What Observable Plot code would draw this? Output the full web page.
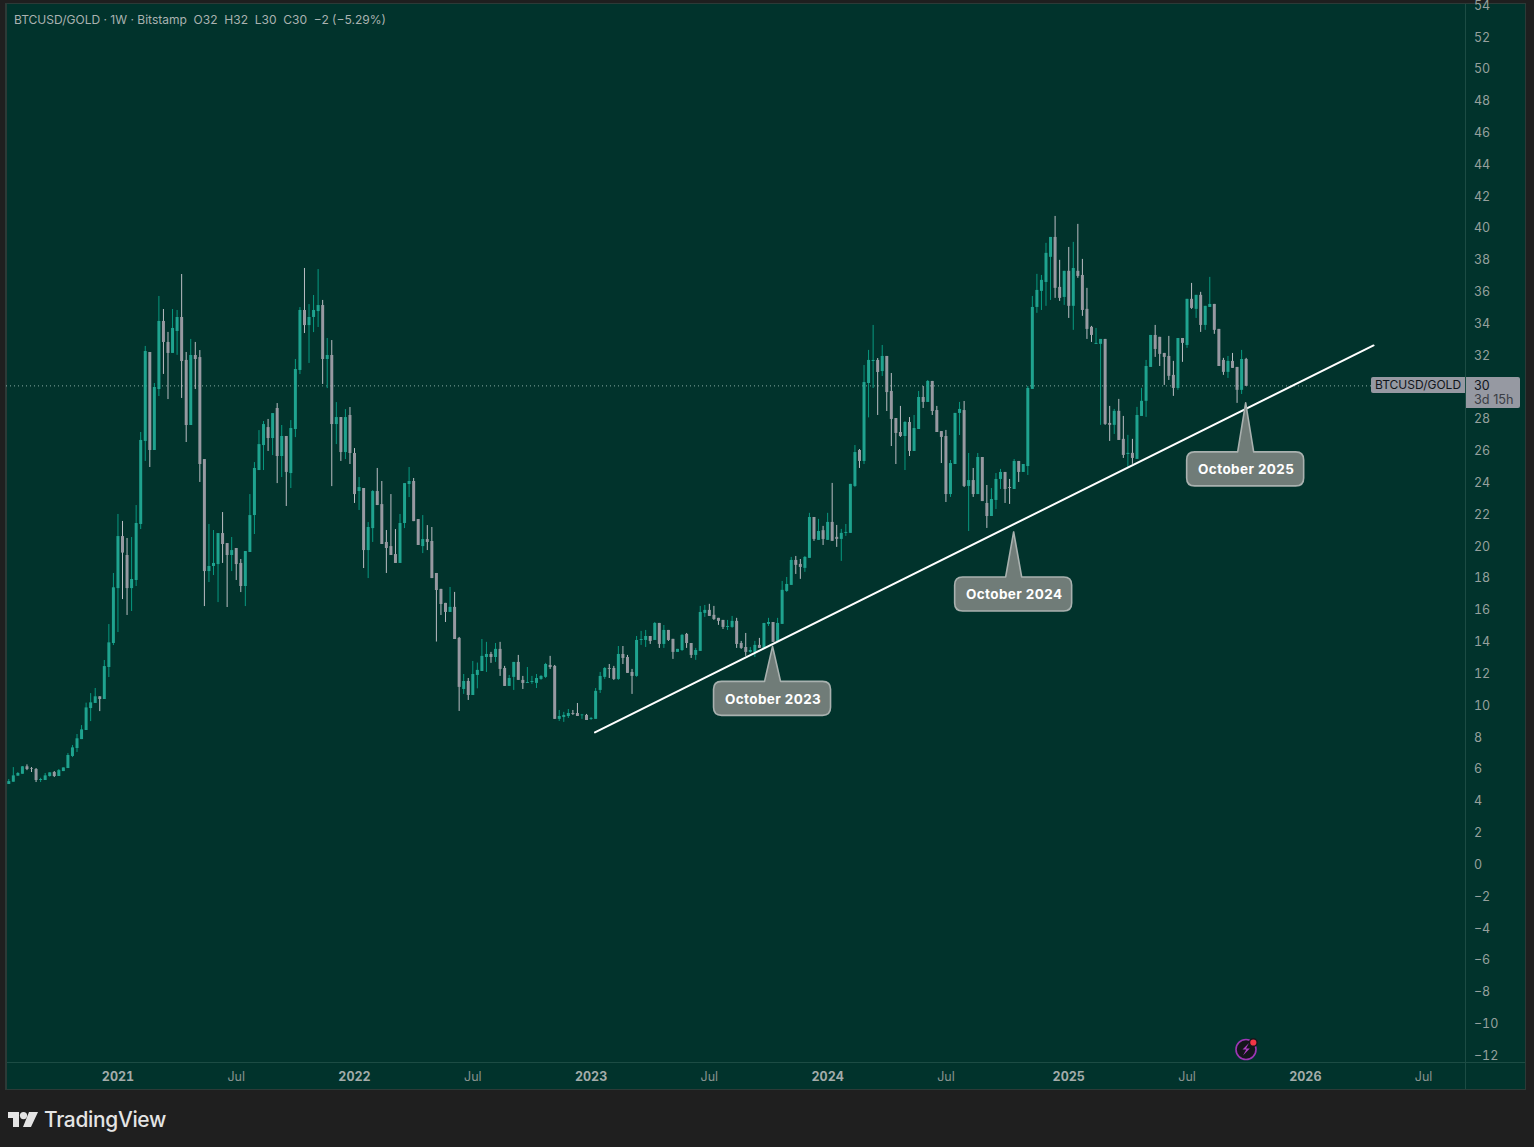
<!DOCTYPE html>
<html>
<head>
<meta charset="utf-8">
<script src="https://cdn.jsdelivr.net/npm/d3@7"></script>
<script src="https://cdn.jsdelivr.net/npm/@observablehq/plot@0.6"></script>
<style>
html,body{margin:0;padding:0;background:#1f1f1f;width:1534px;height:1147px;overflow:hidden;font-family:Inter,"Noto Sans",sans-serif}
#panel{position:absolute;left:5px;top:3px;width:1518px;height:1085px;background:#01332c;border:solid #2c3a37;border-width:1.5px 1px 1px 2px;box-sizing:content-box}
#sepH{position:absolute;left:7px;top:1062px;width:1518px;height:1px;background:#1c4c44}
#sepV{position:absolute;left:1465px;top:4px;width:1px;height:1085px;background:#1c4c44}
#chart{position:absolute;left:0;top:0}
#head{position:absolute;left:14px;top:12px;font-size:12.02px;line-height:15px;color:#aab2b0;white-space:pre}
.tag{position:absolute;background:#9699a2;color:#11151a;box-sizing:border-box}
#tagName{left:1371px;top:377px;width:94px;height:16px;border-radius:2px 0 0 2px;font-size:12px;line-height:15px;padding-left:4px}
#tagPrice{left:1466px;top:377px;width:54px;height:31px;border-radius:0 2px 2px 0;font-size:12.5px;line-height:14px;padding:2px 0 0 8px}
#tagPrice span{display:block;color:#3a3e45;font-size:12.7px;white-space:pre}
#logoText{position:absolute;left:44px;top:1106px;font-size:20.9px;line-height:28px;font-weight:500;color:#e4e4e4;letter-spacing:-.3px}
svg.ov{position:absolute;overflow:visible}
g[aria-label="text"] text{letter-spacing:.4px}
</style>
</head>
<body>
<div id="panel"></div><div id="sepH"></div><div id="sepV"></div>
<div id="chart"></div>
<div id="head">BTCUSD/GOLD · 1W · Bitstamp  O32  H32  L30  C30  −2 (−5.29%)</div>
<div class="tag" id="tagName">BTCUSD/GOLD</div>
<div class="tag" id="tagPrice">30<span>3d 15h</span></div>
<svg class="ov" style="left:0;top:0" width="1534" height="1147">
  <g fill="#e4e4e4">
    <path d="M8 1112h11v15h-6v-9h-5z"/><circle cx="23.5" cy="1115.6" r="3.6"/><path d="M29 1112h9l-7 15h-8z"/>
  </g>
  <circle cx="1246" cy="1049.5" r="10" fill="#14161c" stroke="#9c36b5" stroke-width="1.6"/>
  <path d="M1249 1043l-6.5 6.5h3.8l-3.3 6 6.8-7h-3.8z" fill="#b03fc6"/>
  <circle cx="1253.3" cy="1042.5" r="3.8" fill="#f23645" stroke="#14161c" stroke-width="1.4"/>
</svg>
<div id="logoText">TradingView</div>
<script>
const firstWeek = "2020-07-20";
const opens = [
5.03,5.17,5.55,5.67,6.14,6.03,5.97,5.28,5.28,5.53,
5.78,5.53,5.84,6.03,6.79,7.29,7.85,8.42,9.80,10.12,
10.54,10.37,12.38,13.89,17.34,20.61,19.42,17.34,17.85,21.37,
26.59,32.18,26.02,29.85,34.13,32.81,32.12,33.50,34.38,31.68,
27.59,31.99,31.86,25.45,18.41,18.73,18.85,20.80,20.17,19.42,
19.86,18.92,17.47,19.61,21.93,24.76,26.33,27.46,26.77,28.66,
25.64,26.90,24.57,27.34,31.05,34.82,33.87,34.38,34.75,35.13,
31.74,31.99,27.65,28.09,25.89,28.22,25.83,23.44,23.63,19.73,
21.11,23.44,22.62,20.24,19.98,19.48,18.92,21.43,23.88,24.07,
21.68,19.98,20.42,20.30,18.29,17.29,16.41,15.84,16.16,14.21,
11.0,11.50,10.62,11.88,12.13,13.01,13.20,13.01,13.52,12.32,
11.19,11.76,12.70,11.57,11.38,11.44,11.38,11.63,11.76,12.51,
12.45,9.12,9.24,9.30,9.49,9.49,9.35,9.37,9.12,9.12,
10.94,11.76,12.32,12.32,11.63,13.20,13.01,12.07,11.82,14.08,
14.08,14.33,14.08,15.15,13.83,14.71,14.15,13.33,13.45,14.46,
13.89,13.14,13.39,15.78,15.97,15.66,15.47,15.34,14.90,14.90,
15.28,13.89,13.64,13.33,13.33,13.77,13.58,15.09,15.21,14.02,
15.09,17.16,17.54,19.11,18.86,18.61,19.24,21.81,20.37,20.98,
20.37,21.50,20.56,20.43,20.81,20.81,23.76,26.02,25.33,30.23,
31.61,31.68,30.98,31.93,29.73,28.03,27.15,26.90,27.78,25.96,
27.34,29.35,29.04,30.36,28.53,27.21,26.90,23.25,25.14,28.35,
28.53,23.76,24.13,23.25,25.58,22.69,21.87,22.88,24.20,24.64,
23.69,23.57,25.33,24.64,25.01,29.86,35.01,36.02,36.58,38.16,
39.41,36.27,35.64,37.28,35.08,37.28,37.02,34.89,33.76,32.69,
32.69,33.0,27.72,27.60,28.48,26.72,25.77,25.84,25.46,28.16,
29.11,31.24,33.25,33.13,32.12,31.93,30.74,29.92,33.06,32.62,
35.52,34.89,35.77,33.88,35.01,35.20,33.63,31.68,30.93,31.62,
31.24,29.80,31.74];
const closes = [
5.21,5.57,5.72,6.14,5.97,5.99,5.28,5.34,5.57,5.76,
5.53,5.90,6.07,6.85,7.33,7.90,8.46,9.84,10.16,10.54,
10.37,12.44,13.93,17.39,20.61,19.57,17.34,17.91,21.43,26.65,
32.24,26.02,29.98,34.13,32.81,32.12,33.69,34.38,31.61,27.59,
31.99,31.74,25.14,18.41,18.73,18.92,20.80,20.11,19.42,19.73,
18.85,17.47,19.67,21.93,24.89,26.39,27.65,26.77,28.34,25.64,
26.90,24.64,27.40,31.11,34.82,33.87,34.38,34.82,35.13,31.74,
31.99,27.65,28.09,25.89,28.09,25.83,23.25,23.69,19.73,21.18,
23.44,22.56,20.11,19.86,19.42,18.92,21.43,23.94,24.07,21.55,
20.05,20.42,20.24,17.97,17.22,16.34,15.84,16.16,14.14,11.13,
11.50,10.62,11.94,12.20,13.08,13.20,13.01,13.52,12.26,11.19,
11.69,12.70,11.57,11.38,11.44,11.50,11.69,11.82,12.57,12.38,
9.12,9.30,9.37,9.49,9.43,9.30,9.39,9.05,9.18,10.88,
11.82,12.32,12.26,11.63,13.20,12.95,12.01,11.82,14.08,14.14,
14.33,14.02,15.15,13.83,14.71,14.08,13.33,13.52,14.40,13.89,
13.14,13.45,15.84,15.97,15.59,15.40,15.28,14.90,14.96,15.28,
13.83,13.58,13.33,13.45,13.77,13.58,15.15,15.21,13.96,15.15,
17.23,17.60,19.11,18.80,18.67,19.30,21.81,20.43,20.93,20.43,
21.50,20.31,20.43,20.81,20.87,23.89,25.89,25.33,30.29,31.68,
31.68,30.92,31.93,29.66,27.97,27.09,26.90,27.78,25.96,27.40,
29.35,29.04,30.36,28.47,27.15,26.84,23.25,25.20,28.35,28.60,
23.76,24.13,23.25,25.58,22.81,21.87,22.94,24.20,24.64,23.57,
23.63,25.33,24.64,25.14,29.92,35.01,36.08,36.71,38.41,39.41,
36.21,35.58,37.28,35.08,37.46,36.96,34.82,33.63,33.25,32.75,
33.0,27.66,27.60,28.48,26.65,25.71,25.84,25.52,28.22,29.11,
31.30,33.25,32.37,32.06,31.87,30.68,29.92,33.06,32.75,35.52,
34.95,35.77,33.88,35.08,35.20,33.57,31.30,30.93,31.62,31.18,
29.80,31.74,30.05];
const highs = [
5.34,6.09,5.78,6.16,6.26,6.09,6.03,5.42,5.72,5.76,
5.84,5.97,6.07,6.97,7.48,8.17,8.73,10.14,10.74,11.06,
10.54,12.82,15.08,18.29,22.0,21.56,20.49,20.55,22.56,27.15,
32.56,32.18,30.23,35.70,34.88,33.44,34.88,34.82,37.08,32.18,
33.0,32.81,32.30,25.45,21.37,20.99,20.80,22.12,20.17,20.55,
19.86,19.17,19.67,23.25,25.26,27.27,27.84,27.97,28.34,28.97,
27.59,26.90,27.90,31.74,35.0,37.46,35.19,35.76,37.39,35.45,
33.06,32.93,29.03,28.09,28.59,28.72,26.14,24.32,23.63,21.49,
23.50,24.89,24.07,20.99,23.25,21.05,22.0,23.94,24.95,24.26,
21.68,21.93,21.30,21.18,18.29,17.29,16.41,17.41,17.10,14.27,
11.94,11.69,12.76,12.66,14.14,13.96,13.33,13.89,13.96,12.45,
11.88,12.70,13.14,11.82,12.38,11.82,11.94,11.88,12.64,13.08,
12.51,9.68,9.56,9.74,9.68,10.12,9.43,9.43,9.24,11.06,
12.07,12.38,12.57,12.45,13.70,13.70,13.14,12.26,14.33,14.65,
14.71,14.33,15.21,15.15,15.02,14.71,14.15,13.52,14.46,14.52,
13.89,13.58,16.22,16.28,16.35,16.22,15.47,15.34,15.34,15.59,
15.47,14.02,14.52,13.64,14.02,14.21,15.15,15.47,15.21,15.47,
17.79,18.04,19.30,19.36,19.17,19.36,22.07,21.81,21.69,21.25,
22.07,23.95,21.31,21.06,21.37,23.89,26.33,26.08,31.36,32.31,
33.88,31.80,32.62,31.93,30.86,28.03,28.79,27.84,28.09,28.22,
29.73,30.04,30.42,30.36,28.79,27.21,27.28,25.39,28.35,29.04,
29.10,25.83,24.89,25.83,25.58,23.82,23.63,24.57,24.83,24.64,
24.20,25.45,25.33,25.14,30.04,35.70,37.09,37.02,39.04,39.41,
40.73,37.97,37.28,38.78,39.10,40.23,38.03,36.21,33.82,33.69,
33.0,33.0,28.79,28.60,29.23,28.16,26.97,26.72,28.73,29.92,
31.68,33.25,33.88,33.13,32.12,33.19,31.62,33.06,33.06,35.52,
36.52,35.77,35.96,35.08,36.90,35.20,33.63,31.81,31.93,32.12,
31.24,32.31,31.81];
const lows = [
5.03,5.17,5.55,5.67,5.90,5.78,5.15,5.15,5.28,5.49,
5.47,5.53,5.84,6.03,6.72,7.04,7.85,8.42,8.98,10.12,
9.61,10.37,11.75,13.76,14.58,16.65,15.65,15.90,17.47,21.05,
25.33,24.95,26.02,29.41,30.80,29.22,32.12,32.0,29.29,26.52,
27.59,29.85,24.01,16.21,17.72,18.16,16.46,18.92,16.15,18.41,
17.85,17.09,16.21,19.61,20.74,24.76,24.76,25.96,25.70,23.94,
24.32,22.50,23.63,26.83,30.79,33.37,31.49,33.43,33.75,30.17,
29.91,23.75,26.39,25.33,25.45,25.14,22.69,22.25,18.60,17.97,
20.24,22.56,20.11,18.29,19.42,18.92,18.92,21.11,23.06,21.55,
20.05,19.54,19.73,17.97,13.98,15.65,15.21,15.84,14.14,9.62,
10.69,10.31,10.62,11.04,12.13,12.07,12.64,12.70,11.82,11.19,
11.19,10.94,11.57,11.0,11.38,11.32,11.06,11.57,11.69,12.26,
9.12,8.99,8.93,9.18,9.37,9.30,9.12,9.05,9.05,9.12,
10.75,11.63,11.69,11.57,11.57,12.57,12.01,10.69,11.76,13.77,
13.64,13.83,14.08,13.58,13.58,14.02,12.89,13.33,13.39,13.58,
12.95,12.83,13.39,15.53,15.59,15.34,15.03,14.77,14.71,14.84,
13.58,13.52,13.08,13.27,13.01,13.58,13.58,14.96,13.96,14.02,
15.09,17.10,17.54,18.23,17.92,18.36,19.24,20.31,20.37,20.05,
20.37,20.31,19.93,19.05,20.62,20.81,23.69,24.89,25.14,28.07,
29.92,28.22,30.67,28.47,26.27,25.14,26.84,24.76,25.64,25.96,
27.34,28.66,29.04,28.22,27.15,25.20,22.75,23.07,25.14,26.96,
23.69,20.93,23.07,23.25,22.81,21.12,21.87,22.31,23.57,22.69,
22.63,23.57,24.01,24.64,24.45,29.86,34.64,34.82,35.08,35.45,
35.58,35.39,35.14,34.32,33.57,36.84,34.45,33.0,32.81,32.69,
27.60,27.60,26.59,27.03,26.65,25.52,24.89,25.15,25.46,28.16,
28.10,31.24,31.87,31.30,30.11,30.42,29.42,29.80,31.56,32.44,
34.89,34.32,33.44,33.57,35.01,33.32,31.30,30.74,30.55,31.18,
28.98,29.54,30.05];

const priceTicks = [-12,-10,-8,-6,-4,-2,0,2,4,6,8,10,12,14,16,18,20,22,24,26,28,30,32,34,36,38,40,42,44,46,48,50,52,54];
const yearDates = ["2021-01-04","2022-01-03","2023-01-02","2024-01-01","2025-01-06","2026-01-05"];
const yearLabels = ["2021","2022","2023","2024","2025","2026"];
const julyDates = ["2021-07-05","2022-07-04","2023-07-03","2024-07-01","2025-07-07","2026-07-06"];
const trendDates = ["2023-01-08","2026-04-20"];
const trendValues = [8.30,32.62];
const calloutLabels = ["October 2023","October 2024","October 2025"];
const calloutDates = ["2023-10-09","2024-10-14","2025-10-06"];
const calloutValues = [13.68,20.87,28.98];
const calloutStems = [35,45,49];
const lastPrice = 30.08;

const U = s => new Date(s + "T00:00:00Z");
const start = U(firstWeek);
const candles = opens.map((o,i)=>({
  date:d3.utcMonday.offset(start,i), open:o, close:closes[i], high:highs[i], low:lows[i], up:closes[i]>=o
}));
const trend = trendDates.map((d,i)=>({date:U(d),value:trendValues[i]}));
const callouts = calloutLabels.map((t,i)=>({label:t,date:U(calloutDates[i]),value:calloutValues[i],stem:calloutStems[i]}));

// Callout shape, anchored at the point on the time/price scales
function calloutShapes(index, scales){
  const g = d3.create("svg:g");
  for(const c of callouts){
    const X = scales.x(c.date), Y = scales.y(c.value);
    const L=-59,R=58,T=c.stem,B=T+34,r=8,w=8;
    const d = `M0 0 L${-w} ${T} L${L+r} ${T} Q${L} ${T} ${L} ${T+r} L${L} ${B-r} Q${L} ${B} ${L+r} ${B} L${R-r} ${B} Q${R} ${B} ${R} ${B-r} L${R} ${T+r} Q${R} ${T} ${R-r} ${T} L${w} ${T} Z`;
    g.append("path").attr("d",d).attr("transform",`translate(${X},${Y})`)
      .attr("fill","#707c78").attr("stroke","#a9b1af").attr("stroke-width",1.6).attr("stroke-linejoin","round");
  }
  return g.node();
}

const plot = Plot.plot({
  width:1534, height:1147,
  marginLeft:6, marginRight:69, marginTop:4, marginBottom:85,
  style:{background:"transparent",fontFamily:"Inter, 'Noto Sans', sans-serif",overflow:"visible"},
  x:{type:"utc",domain:[new Date("2020-07-16T12:00:00Z"),new Date("2026-09-08T12:00:00Z")]},
  y:{domain:[-12.445,54.05]},
  marks:[
    Plot.axisY(priceTicks,{anchor:"right",label:null,tickSize:0,tickPadding:8.5,dy:0.4,fontSize:12.5,fill:"#95a09d",color:"#95a09d",textAnchor:"start"}),
    Plot.axisX(yearDates.map(U),{anchor:"bottom",label:null,tickSize:0,tickPadding:10,fontSize:12.5,fontWeight:700,fill:"#a3acaa",color:"#a3acaa",tickFormat:(d,i)=>yearLabels[i]}),
    Plot.axisX(julyDates.map(U),{anchor:"bottom",label:null,tickSize:0,tickPadding:10,fontSize:12.5,fill:"#87928f",color:"#87928f",tickFormat:()=>"Jul"}),
    Plot.ruleY([lastPrice],{stroke:"#9fc0b8",strokeWidth:1,strokeDasharray:"1,3",strokeOpacity:.85}),
    Plot.ruleX(candles,{x:"date",y1:"low",y2:"high",strokeWidth:1,stroke:d=>d.up?"#089981":"#bcbec4"}),
    Plot.ruleX(candles,{x:"date",y1:"open",y2:"close",strokeWidth:3,stroke:d=>d.up?"#1fa38f":"#9799a1"}),
    Plot.line(trend,{x:"date",y:"value",stroke:"#ffffff",strokeWidth:2}),
    calloutShapes,
    Plot.text(callouts,{x:"date",y:"value",text:"label",fill:"#ffffff",fontSize:13.5,fontWeight:700,lineAnchor:"middle",
      render(index,scales,values,dims,context,next){
        const g = next(index,scales,values,dims,context);
        d3.select(g).selectAll("text").each(function(_,k){
          const c = callouts[index[k]];
          d3.select(this).attr("transform",`translate(${scales.x(c.date)},${scales.y(c.value)+c.stem+14})`)
            .attr("dominant-baseline","middle");
        });
        return g;
      }})
  ]
});
document.getElementById("chart").appendChild(plot);
</script>
</body>
</html>
